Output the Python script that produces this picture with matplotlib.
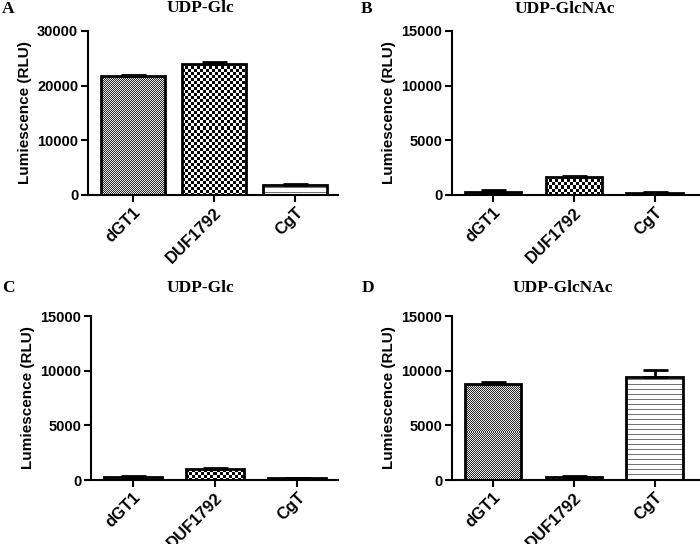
import numpy as np
import matplotlib
matplotlib.use("Agg")
import matplotlib.pyplot as plt

# data
enzymes = ["dGT1", "DUF1792", "CgT"]
panel_letters = ["A", "B", "C", "D"]
panel_titles = ["UDP-Glc", "UDP-GlcNAc", "UDP-Glc", "UDP-GlcNAc"]
y_max = [30000, 15000, 15000, 15000]
y_ticks = [[0, 10000, 20000, 30000], [0, 5000, 10000, 15000],
           [0, 5000, 10000, 15000], [0, 5000, 10000, 15000]]
vals_a = [21700, 24000, 1800]
errs_a = [300, 400, 250]
vals_b = [300, 1650, 150]
errs_b = [120, 100, 80]
vals_c = [300, 1000, 180]
errs_c = [50, 60, 40]
vals_d = [8800, 300, 9400]
errs_d = [200, 50, 650]
patterns = ["fine", "coarse", "lines"]

W, H = 700, 544
# axes boxes in pixels: left, top, right, bottom
boxes = [(88, 31, 338, 195), (452, 31, 700, 195),
         (91, 316, 338, 480), (452, 316, 700, 480)]
xlims = [(-0.556, 2.53), (-0.506, 2.56), (-0.51, 2.5), (-0.506, 2.56)]
bar_w = [0.8, 0.7, 0.7, 0.7]
title_pos = [(200, 8), (565, 9), (200, 288), (563, 288)]
letter_pos = [(2, 9), (361, 9), (2, 288), (362, 288)]

SANS = "Liberation Sans"
SERIF = "Liberation Serif"


def texture(kind, w, h):
    yy, xx = np.mgrid[0:h, 0:w]
    if kind == "fine":
        return np.where((xx + yy) % 2 == 0, 0.15, 0.92)
    if kind == "coarse":
        return np.where((xx // 3 + yy // 3) % 2 == 0, 0.0, 1.0)
    return np.where(yy % 5 == 2, 0.45, 1.0)


fig = plt.figure(figsize=(7, 5.44), dpi=100)
all_vals = [vals_a, vals_b, vals_c, vals_d]
all_errs = [errs_a, errs_b, errs_c, errs_d]

for i in range(4):
    l, t, r, b = boxes[i]
    ax = fig.add_axes([l / W, 1 - b / H, (r - l) / W, (b - t) / H])
    x = np.arange(len(enzymes))
    bars = ax.bar(x, all_vals[i], width=bar_w[i], facecolor="none",
                  edgecolor="black", linewidth=2.0, zorder=3)
    ax.errorbar(x, all_vals[i], yerr=[np.zeros(3), all_errs[i]], fmt="none",
                ecolor="black", elinewidth=2.0, capsize=9, capthick=2.0,
                zorder=4, clip_on=False)
    ax.set_xticks(x)
    ax.set_xticklabels(enzymes, rotation=45, ha="right", rotation_mode="anchor",
                       fontsize=12, fontweight="bold", family=SANS)
    ax.set_yticks(y_ticks[i])
    for lab in ax.get_yticklabels():
        lab.set_fontsize(10.5)
        lab.set_fontweight("bold")
        lab.set_family(SANS)
    ax.set_ylabel("Lumiescence (RLU)", fontsize=11, fontweight="bold",
                  family=SANS, labelpad=4)
    for s in ["top", "right"]:
        ax.spines[s].set_visible(False)
    for s in ["left", "bottom"]:
        ax.spines[s].set_linewidth(1.5)
    ax.tick_params(axis="both", direction="out", length=5, width=1.5, pad=2)
    ax.set_xlim(*xlims[i])
    ax.set_ylim(0, y_max[i])

    # fill each bar with its texture, clipped to the bar outline
    for bar, kind in zip(bars, patterns):
        ext = bar.get_window_extent()
        wpx = max(int(round(ext.width)), 1)
        hpx = max(int(round(ext.height)), 1)
        img = texture(kind, wpx, hpx)
        x0 = bar.get_x()
        im = ax.imshow(img, cmap="gray", vmin=0, vmax=1, aspect="auto",
                       interpolation="nearest", origin="upper",
                       extent=(x0, x0 + bar.get_width(), 0, bar.get_height()),
                       zorder=2)
        im.set_clip_path(bar)
    ax.set_xlim(*xlims[i])
    ax.set_ylim(0, y_max[i])

    tx, ty = title_pos[i]
    fig.text(tx / W, 1 - ty / H, panel_titles[i], ha="center", va="center",
             fontsize=12.5, fontweight="bold", family=SERIF)
    lx, ly = letter_pos[i]
    fig.text(lx / W, 1 - ly / H, panel_letters[i], ha="left", va="center",
             fontsize=12.5, fontweight="bold", family=SERIF)

fig.savefig("out.png", dpi=100)
